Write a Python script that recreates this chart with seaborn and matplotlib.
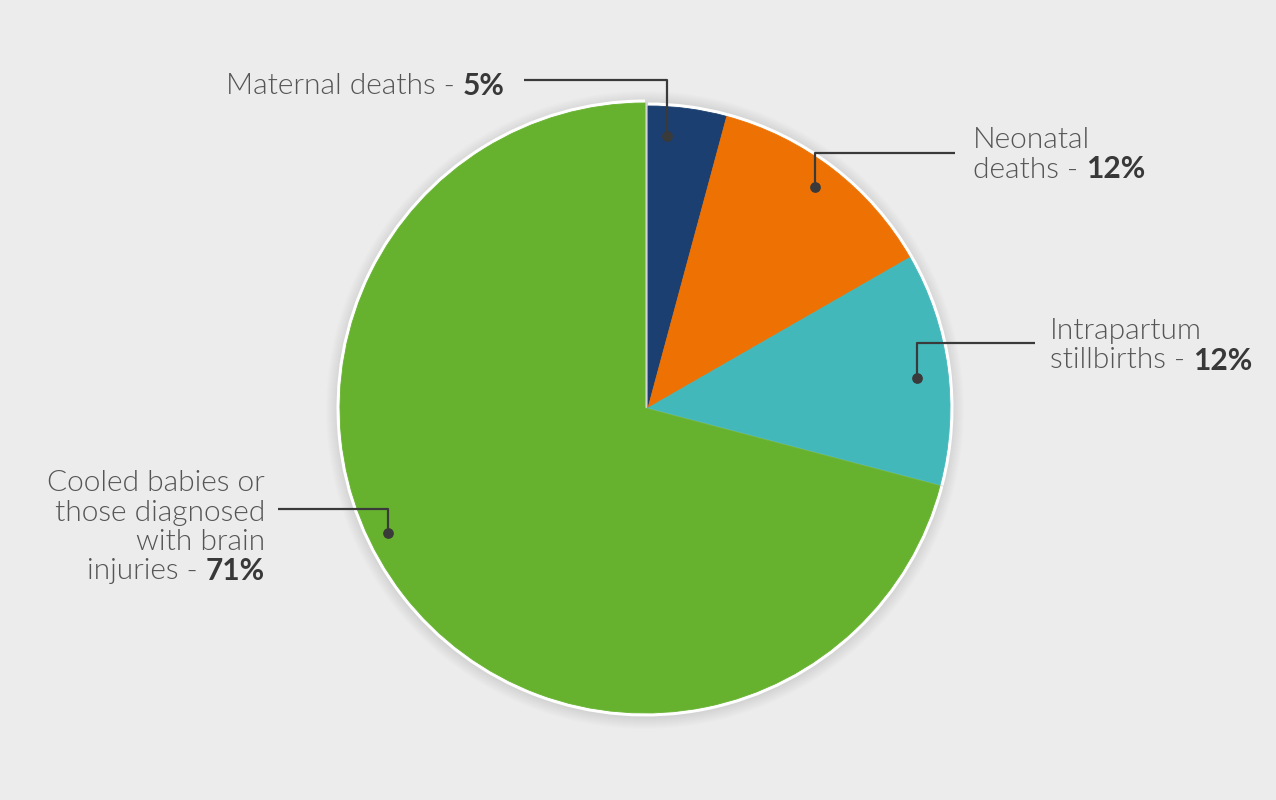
import matplotlib
matplotlib.use("Agg")
import matplotlib.pyplot as plt
from matplotlib.patches import Wedge
import seaborn as sns

# slice data (clockwise from 12 o'clock)
categories = ["Maternal deaths", "Neonatal deaths", "Intrapartum stillbirths",
              "Cooled babies or those diagnosed with brain injuries"]
shares = [4.2, 12.5, 12.4, 70.9]
share_labels = ["5%", "12%", "12%", "71%"]
label_lines = [["Maternal deaths - "],
               ["Neonatal", "deaths - "],
               ["Intrapartum", "stillbirths - "],
               ["Cooled babies or", "those diagnosed", "with brain", "injuries - "]]

colors = ["#1a3f70", "#ee7203", "#42b8bb", "#66b22f"]
bg = "#ececec"

sns.set_theme(style="white")
plt.rcParams["font.family"] = ["Lato", "DejaVu Sans"]

W, H = 1276, 800
fig = plt.figure(figsize=(W / 100, H / 100), dpi=100, facecolor=bg)
ax = fig.add_axes([0, 0, 1, 1])
ax.set_facecolor(bg)

cx, cy = 648, H - 408
r = 302

# soft halo shadow behind the pie
for k in range(12):
    ax.add_patch(plt.Circle((cx - 3, cy - 2), r + 6 + k, color="black",
                            alpha=0.008, lw=0, zorder=1))

wedges, _ = ax.pie(shares, colors=colors, startangle=90, counterclock=False,
                   center=(cx, cy), radius=r, frame=True,
                   wedgeprops=dict(linewidth=0))
wedges[3].set_radius(r + 3)
wedges[3].set_center((cx - 3, cy))
for w, c in zip(wedges, colors):
    w.set_zorder(3)
    w.set_edgecolor(c)
    w.set_linewidth(0.6)
    # white rim only on the outer arc
    ax.add_patch(Wedge(w.center, w.r + 3.5, w.theta1, w.theta2,
                       color="white", lw=0, zorder=2))

ax.set_xlim(0, W)
ax.set_ylim(0, H)
ax.set_aspect("equal")
ax.axis("off")

line_col = "#3a3a3a"
text_col = "#555555"
bold_col = "#383838"
fs = 21.5
lh = 29.5

# connector: dot, elbow point, end point (pixel coords, y from top)
connectors = [
    [(667, 136), (667, 80), (524, 80)],
    [(815, 187), (815, 153), (955, 153)],
    [(917, 378), (917, 343), (1035, 343)],
    [(388, 533), (388, 509), (278, 509)],
]
# text anchor: x, y of first line centre, alignment
anchors = [(505, 86, "right"), (973, 140, "left"),
           (1050, 331, "left"), (265, 483, "right")]

fig.canvas.draw()
renderer = fig.canvas.get_renderer()
for pts, (tx, ty, ha), lines, bold in zip(connectors, anchors, label_lines, share_labels):
    xs = [p[0] for p in pts]
    ys = [H - p[1] for p in pts]
    ax.plot(xs, ys, color=line_col, lw=1.6, zorder=5, solid_capstyle="butt")
    ax.scatter([xs[0]], [ys[0]], s=45, color=line_col, zorder=6)

    for i, ln in enumerate(lines):
        y = H - (ty + i * lh)
        last = i == len(lines) - 1
        if ha == "left":
            t = ax.text(tx, y, ln, ha="left", va="center", fontsize=fs,
                        fontweight=300, color=text_col, zorder=7)
            if last:
                bb = t.get_window_extent(renderer)
                ax.text(bb.x1, y, bold, ha="left", va="center", fontsize=fs,
                        fontweight="bold", color=bold_col, zorder=7)
        else:
            if last:
                b = ax.text(tx, y, bold, ha="right", va="center", fontsize=fs,
                            fontweight="bold", color=bold_col, zorder=7)
                bb = b.get_window_extent(renderer)
                ax.text(bb.x0, y, ln, ha="right", va="center", fontsize=fs,
                        fontweight=300, color=text_col, zorder=7)
            else:
                ax.text(tx, y, ln, ha="right", va="center", fontsize=fs,
                        fontweight=300, color=text_col, zorder=7)

fig.savefig("out.png", dpi=100, facecolor=bg)
